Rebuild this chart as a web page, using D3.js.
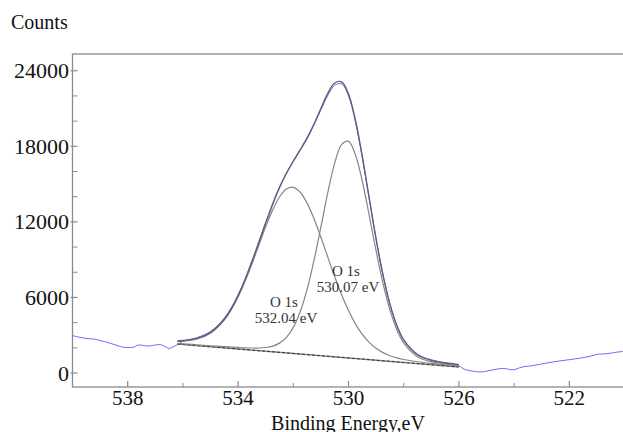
<!DOCTYPE html>
<html>
<head>
<meta charset="utf-8">
<script src="https://cdn.jsdelivr.net/npm/d3@7"></script>
<style>
  body { margin: 0; background: #fff; }
  text { font-family: "Liberation Serif", "Times New Roman", serif; fill: #111; }
</style>
</head>
<body>
<script>
// binding energies (eV) of the fitted region
const fitEnergy = [536.2, 536.0, 535.5, 535.0, 534.5, 534.25, 534.0, 533.75, 533.5, 533.25,
    533.0, 532.75, 532.5, 532.25, 532.0, 531.75, 531.5, 531.25, 531.0, 530.75,
    530.5, 530.25, 530.0, 529.75, 529.5, 529.25, 529.0, 528.75, 528.5, 528.25,
    528.0, 527.5, 527.0, 526.5, 526.0];

// component O 1s 532.04 eV (drawn on top of the background)
const peak532 = [2509, 2524, 2681, 3155, 4195, 5005, 6033, 7263, 8657, 10140,
    11609, 12934, 13977, 14610, 14745, 14355, 13489, 12253, 10776, 9201,
    7647, 6210, 4955, 3906, 3073, 2435, 1963, 1621, 1376, 1202,
    1075, 897, 765, 659, 557];

// component O 1s 530.07 eV
const peak530 = [2351, 2319, 2240, 2164, 2092, 2059, 2029, 2003, 1986, 1986,
    2024, 2132, 2373, 2829, 3621, 4864, 6638, 8935, 11601, 14323,
    16665, 18141, 18392, 17334, 15227, 12521, 9693, 7119, 5016, 3456,
    2391, 1300, 901, 721, 592];

// envelope (sum of components and background)
const envelope = [2560, 2579, 2746, 3233, 4291, 5112, 6155, 7403, 8825, 10353,
    11904, 13382, 14710, 15844, 16816, 17713, 18666, 19771, 21005, 22197,
    23029, 23113, 22153, 20091, 17196, 13896, 10641, 7769, 5466, 3777,
    2629, 1449, 1008, 811, 669];

// background end points
const bgEnergy = [536.2, 526.0];
const bgCounts = [2300, 480];

// measured spectrum
const rawEnergy = [540.0, 539.8, 539.6, 539.4, 539.2, 539.0, 538.8, 538.6, 538.4, 538.2,
    538.0, 537.8, 537.6, 537.4, 537.2, 537.0, 536.8, 536.6, 536.5, 536.4,
    536.2, 536.0, 535.5, 535.0, 534.5, 534.0, 533.5, 533.0, 532.5, 532.0,
    531.5, 531.0, 530.75, 530.5, 530.25, 530.0, 529.75, 529.5, 529.25, 529.0,
    528.75, 528.5, 528.25, 528.0, 527.5, 527.0, 526.5, 526.0, 525.8, 525.6,
    525.4, 525.2, 525.0, 524.8, 524.6, 524.4, 524.2, 524.0, 523.8, 523.6,
    523.4, 523.2, 523.0, 522.8, 522.6, 522.4, 522.2, 522.0, 521.8, 521.6,
    521.4, 521.2, 521.0, 520.8, 520.6, 520.4, 520.2, 520.0];
const rawCounts = [2965, 2870, 2780, 2720, 2690, 2580, 2470, 2340, 2200, 2060,
    2030, 2040, 2230, 2170, 2150, 2230, 2250, 2050, 1950, 2030,
    2250, 2520, 2800, 3300, 4350, 6200, 8900, 11950, 14800, 16850,
    18600, 20900, 22050, 22850, 22950, 22000, 19950, 17100, 13850, 10650,
    7800, 5500, 3800, 2650, 1500, 1050, 820, 560, 300, 185,
    120, 80, 150, 240, 320, 370, 300, 260, 420, 520,
    560, 640, 720, 800, 880, 940, 1000, 1060, 1120, 1180,
    1260, 1360, 1480, 1510, 1540, 1620, 1680, 1720];

const xMajor = [538, 534, 530, 526, 522];
const xMinor = [540, 536, 532, 528, 524, 520];
const yMajor = [0, 6000, 12000, 18000, 24000];
const yMinor = [2000, 4000, 8000, 10000, 14000, 16000, 20000, 22000];

const peakLabels = [
    { name: 'O 1s', value: '532.04 eV', x: 284, y: 307 },
    { name: 'O 1s', value: '530.07 eV', x: 346, y: 276 }
];

const width = 623, height = 432;
const plotLeft = 72.5, plotRight = 624.5, plotTop = 54, plotBottom = 387;

const svg = d3.select('body').append('svg')
    .attr('width', width)
    .attr('height', height);

const x = d3.scaleLinear().domain([540, 520]).range([plotLeft, plotRight]);
const y = d3.scaleLinear().domain([-1110, 25330]).range([plotBottom, plotTop]);

// frame
const axisColor = '#8a8a8a';
svg.append('rect')
    .attr('x', plotLeft).attr('y', plotTop)
    .attr('width', plotRight - plotLeft).attr('height', plotBottom - plotTop)
    .attr('fill', 'none').attr('stroke', axisColor).attr('stroke-width', 1.3);

// ticks point inward
svg.append('g').selectAll('line').data(xMajor).join('line')
    .attr('x1', d => x(d)).attr('x2', d => x(d))
    .attr('y1', plotBottom).attr('y2', plotBottom - 6)
    .attr('stroke', axisColor).attr('stroke-width', 1.2);
svg.append('g').selectAll('line').data(xMinor).join('line')
    .attr('x1', d => x(d)).attr('x2', d => x(d))
    .attr('y1', plotBottom).attr('y2', plotBottom - 4)
    .attr('stroke', axisColor).attr('stroke-width', 1);
svg.append('g').selectAll('line').data(yMajor).join('line')
    .attr('x1', plotLeft - 2).attr('x2', plotLeft + 5)
    .attr('y1', d => y(d)).attr('y2', d => y(d))
    .attr('stroke', axisColor).attr('stroke-width', 1.2);
svg.append('g').selectAll('line').data(yMinor).join('line')
    .attr('x1', plotLeft).attr('x2', plotLeft + 5)
    .attr('y1', d => y(d)).attr('y2', d => y(d))
    .attr('stroke', axisColor).attr('stroke-width', 1);

// tick labels
svg.append('g').selectAll('text').data(xMajor).join('text')
    .attr('x', d => x(d)).attr('y', 405)
    .attr('text-anchor', 'middle')
    .style('font-size', '21px')
    .text(d => d);
svg.append('g').selectAll('text').data(yMajor).join('text')
    .attr('x', 69).attr('y', d => y(d) + 7.5)
    .attr('text-anchor', 'end')
    .style('font-size', '22px')
    .text(d => d);

svg.append('text').attr('x', 11).attr('y', 29)
    .style('font-size', '20px').text('Counts');
svg.append('text').attr('x', 348).attr('y', 429.5)
    .attr('text-anchor', 'middle')
    .style('font-size', '20px').text('Binding Energy,eV');

// curves
const fitLine = vals => d3.line()
    .x((d, i) => x(fitEnergy[i]))
    .y(d => y(d))
    .curve(d3.curveCatmullRom)(vals);

const plot = svg.append('g');

plot.append('path')
    .attr('d', d3.line().x((d, i) => x(rawEnergy[i])).y(d => y(d)).curve(d3.curveCatmullRom)(rawCounts))
    .attr('fill', 'none').attr('stroke', '#6e6ef0').attr('stroke-width', 1);

const bgPts = bgEnergy.map((e, i) => [x(e), y(bgCounts[i])]);
plot.append('path')
    .attr('d', d3.line()(bgPts))
    .attr('fill', 'none').attr('stroke', '#8c8c8c').attr('stroke-width', 1.6);
plot.append('path')
    .attr('d', d3.line()(bgPts))
    .attr('fill', 'none').attr('stroke', '#333').attr('stroke-width', 1)
    .attr('stroke-dasharray', '3,2');

[peak532, peak530].forEach(p => {
    plot.append('path')
        .attr('d', fitLine(p))
        .attr('fill', 'none').attr('stroke', '#858585').attr('stroke-width', 1.2);
});

plot.append('path')
    .attr('d', fitLine(envelope))
    .attr('fill', 'none').attr('stroke', '#5e5e78').attr('stroke-width', 1.4);

// peak annotations
peakLabels.forEach(l => {
    svg.append('text').attr('x', l.x).attr('y', l.y)
        .attr('text-anchor', 'middle').style('font-size', '15px').style('fill', '#333')
        .text(l.name);
    svg.append('text').attr('x', l.x + 2).attr('y', l.y + 16)
        .attr('text-anchor', 'middle').style('font-size', '15px').style('fill', '#333')
        .text(l.value);
});
</script>
</body>
</html>
